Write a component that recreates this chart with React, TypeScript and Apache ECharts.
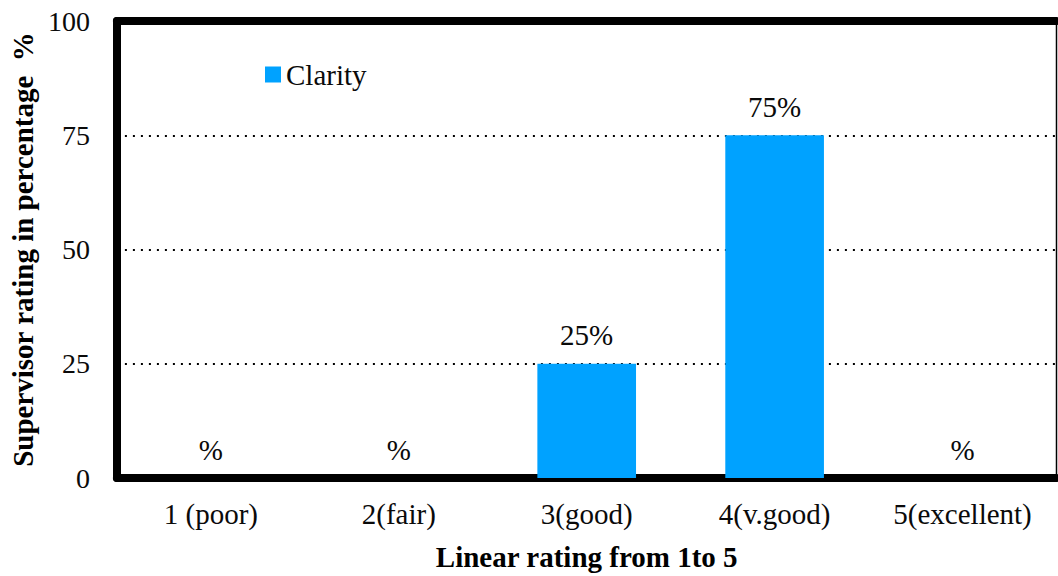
import React, { useEffect, useRef } from "react";
import * as echarts from "echarts";

// Rating categories along the x axis
const categories = ["1 (poor)", "2(fair)", "3(good)", "4(v.good)", "5(excellent)"];
// Percentage of supervisors giving each rating for "Clarity"
const clarityValues = [0, 0, 25, 75, 0];
// Y axis range and step
const yTicks = { min: 0, max: 100, interval: 25 };

const FONT = "Liberation Serif";
const INK = "#0a0a0a";

export default function App() {
  const ref = useRef<HTMLDivElement>(null);

  useEffect(() => {
    if (!ref.current) return;
    const chart = echarts.init(ref.current, undefined, { renderer: "svg" });
    chart.setOption({
      animation: false,
      legend: {
        left: 260,
        top: 55,
        itemWidth: 16,
        itemHeight: 16,
        icon: "rect",
        textStyle: { fontFamily: FONT, fontSize: 29, color: INK },
        data: ["Clarity"],
      },
      grid: {
        left: 114,
        right: 1.5,
        top: 21,
        bottom: 93,
        show: true,
        borderColor: "#000",
        borderWidth: 1.5,
      },
      xAxis: [
        {
          type: "category",
          data: categories,
          position: "bottom",
          axisLine: { show: true, lineStyle: { color: "#000", width: 8 } },
          axisTick: { show: false },
          axisLabel: { fontFamily: FONT, fontSize: 29, color: INK, margin: 21 },
          name: "Linear rating from 1to 5",
          nameLocation: "middle",
          nameGap: 64,
          nameTextStyle: { fontFamily: FONT, fontSize: 29, fontWeight: "bold", color: "#000" },
        },
        {
          type: "category",
          data: categories,
          position: "top",
          axisLine: { show: true, lineStyle: { color: "#000", width: 8 } },
          axisTick: { show: false },
          axisLabel: { show: false },
        },
      ],
      yAxis: {
        type: "value",
        min: yTicks.min,
        max: yTicks.max,
        interval: yTicks.interval,
        axisLine: { show: true, lineStyle: { color: "#000", width: 8 } },
        axisTick: { show: false },
        axisLabel: { fontFamily: FONT, fontSize: 28, color: INK, margin: 27 },
        splitLine: {
          show: true,
          lineStyle: { color: "#000", width: 2, type: [2, 6] },
        },
        name: "Supervisor rating in percentage  %",
        nameLocation: "middle",
        nameGap: 67,
        nameRotate: 90,
        nameTextStyle: { fontFamily: FONT, fontSize: 29, fontWeight: "bold", color: "#000" },
      },
      series: [
        {
          name: "Clarity",
          type: "bar",
          data: clarityValues,
          barWidth: "52.5%",
          itemStyle: { color: "#00A2FF" },
          label: {
            show: true,
            position: "top",
            distance: 14,
            fontFamily: FONT,
            fontSize: 29,
            color: INK,
            formatter: (p: any) => (p.value ? `${p.value}%` : "%"),
          },
        },
      ],
    });
    return () => chart.dispose();
  }, []);

  return (
    <div
      ref={ref}
      style={{ position: "absolute", left: 0, top: 0, width: 1058, height: 576 }}
    />
  );
}
